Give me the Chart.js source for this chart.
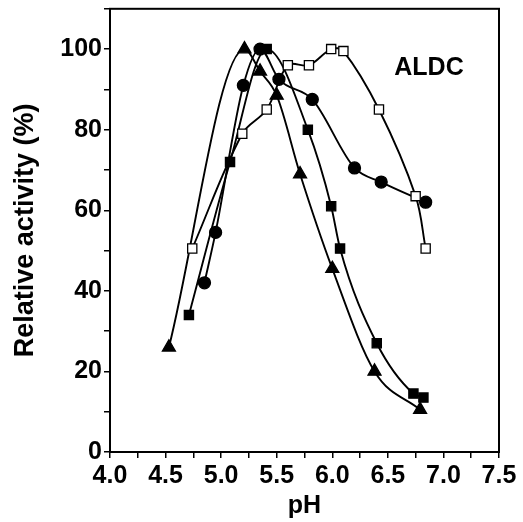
<!DOCTYPE html>
<html><head><meta charset="utf-8">
<script src="https://cdn.jsdelivr.net/npm/chart.js@4"></script>
<style>html,body{margin:0;padding:0;background:#fff}#wrap{width:523px;height:522px}</style>
</head><body><div id="wrap"><canvas id="c" width="523" height="522"></canvas></div>
<script>
// Data
const phOpenSq = [4.74, 5.19, 5.41, 5.60, 5.79, 5.99, 6.10, 6.42, 6.75, 6.84];
const valOpenSq = [50.5, 79, 85, 96, 96, 100, 99.5, 85, 63.5, 50.5];
const phCircle = [4.85, 4.95, 5.20, 5.35, 5.52, 5.82, 6.20, 6.44, 6.84];
const valCircle = [42, 54.5, 91, 100, 92.5, 87.5, 70.5, 67, 62];
const phFillSq = [4.71, 5.08, 5.41, 5.78, 5.99, 6.07, 6.40, 6.73, 6.82];
const valFillSq = [34, 72, 100, 80, 61, 50.5, 27, 14.5, 13.5];
const phTri = [4.53, 5.21, 5.35, 5.50, 5.71, 6.00, 6.38, 6.79];
const valTri = [26, 100, 94.5, 88.5, 69, 45.5, 20, 10.5];
const xLabelTicks = [4.0, 4.5, 5.0, 5.5, 6.0, 6.5, 7.0, 7.5];
const yLabelTicks = [0, 20, 40, 60, 80, 100];
const annotationText = 'ALDC';

const pts = (xs, ys) => xs.map((x, i) => ({x, y: ys[i]}));
const FONT = "'Liberation Sans', Arial, Helvetica, sans-serif";

function ds(xs, ys, style, radius, fill, smooth) {
  const d = {
    data: pts(xs, ys), showLine: true, borderColor: '#000', borderWidth: 1.9,
    pointStyle: style, pointRadius: radius,
    pointBackgroundColor: fill, pointBorderColor: '#000', pointBorderWidth: 1.3,
    pointHoverRadius: radius
  };
  if (smooth === 'monotone') d.cubicInterpolationMode = 'monotone'; else d.tension = smooth;
  return d;
}

const frame = {
  id: 'frame',
  afterDatasetsDraw(chart) {
    const a = chart.chartArea, ctx = chart.ctx;
    ctx.save();
    ctx.strokeStyle = '#000'; ctx.lineWidth = 2;
    ctx.strokeRect(a.left, a.top, a.right - a.left, a.bottom - a.top);
    ctx.fillStyle = '#000';
    ctx.font = "bold 25px " + FONT;
    ctx.textAlign = 'center'; ctx.textBaseline = 'middle';
    ctx.fillText(annotationText, chart.scales.x.getPixelForValue(6.87), chart.scales.y.getPixelForValue(95.3));
    ctx.restore();
  }
};

new Chart(document.getElementById('c'), {
  type: 'scatter',
  data: { datasets: [
    ds(phOpenSq, valOpenSq, 'rect', 6.5, '#fff', 0.35),
    ds(phCircle, valCircle, 'circle', 6, '#000', 'monotone'),
    ds(phFillSq, valFillSq, 'rect', 6.5, '#000', 'monotone'),
    ds(phTri, valTri, 'triangle', 7.5, '#000', 'monotone')
  ]},
  options: {
    responsive: false, animation: false, devicePixelRatio: 1,
    layout: { padding: { top: 0, right: 24, left: 2, bottom: 0 } },
    plugins: { legend: { display: false }, tooltip: { enabled: false } },
    scales: {
      x: {
        type: 'linear', min: 4, max: 7.5,
        afterBuildTicks: s => { const t = []; for (let v = 4; v <= 7.5001; v += 0.25) t.push({value: Math.round(v*100)/100}); s.ticks = t; },
        afterFit: s => { s.height = 70; },
        grid: { drawOnChartArea: false, drawTicks: true, tickLength: 6, color: '#000', lineWidth: 1.5 },
        border: { display: true, color: '#000', width: 2 },
        ticks: { color: '#000', font: { family: FONT, size: 25, weight: 'bold' }, padding: 3, maxRotation: 0, autoSkip: false,
          callback: v => xLabelTicks.some(t => Math.abs(t - v) < 1e-6) ? v.toFixed(1) : '' },
        title: { display: true, text: 'pH', color: '#000', font: { family: FONT, size: 25, weight: 'bold' }, padding: { top: 0, bottom: 1 } }
      },
      y: {
        type: 'linear', min: 0, max: 110,
        afterBuildTicks: s => { const t = []; for (let v = 0; v <= 110; v += 10) t.push({value: v}); s.ticks = t; },
        afterFit: s => { s.width = 108; s.paddingTop = 8; s.paddingBottom = 0; },
        grid: { drawOnChartArea: false, drawTicks: true, tickLength: 6, color: '#000', lineWidth: 1.5 },
        border: { display: true, color: '#000', width: 2 },
        ticks: { color: '#000', font: { family: FONT, size: 25, weight: 'bold' }, padding: 2, autoSkip: false,
          callback: v => yLabelTicks.includes(v) ? String(v) : '' },
        title: { display: true, text: 'Relative activity (%)', color: '#000', font: { family: FONT, size: 27, weight: 'bold' }, padding: { top: 7, bottom: 0 } }
      }
    }
  },
  plugins: [frame]
});
</script></body></html>
